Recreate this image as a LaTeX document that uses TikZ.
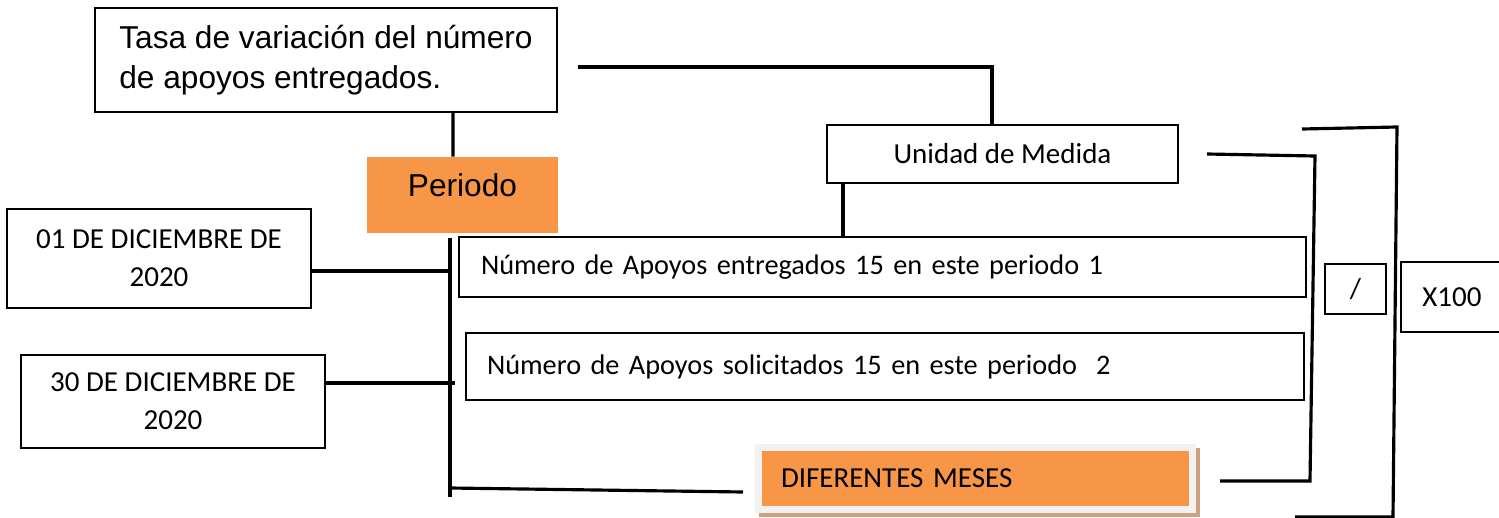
\documentclass[tikz,border=0pt]{standalone}
\usepackage{fontspec}
\setmainfont{Carlito}
\newfontfamily\arialfont{Liberation Sans}
\usetikzlibrary{backgrounds}
\definecolor{naranja}{HTML}{F79646}
\definecolor{marco}{HTML}{F2F2F2}
\definecolor{sombra}{HTML}{CFA27F}

\begin{document}
\begin{tikzpicture}[
  caja/.style={draw, line width=.6pt, inner sep=0pt, font=\fontsize{16.5}{21.5}\selectfont},
  fila/.style={caja, align=left, font=\fontsize{16.1}{20}\selectfont},
  conn/.style={line width=1.8pt},
  ]
\useasboundingbox (0,0) rectangle (29.98,-10.36);
% cajas
\node[caja, minimum width=9.24cm, minimum height=2.08cm, align=left, font=\arialfont\fontsize{18}{22.7}\selectfont] (tasa) at (6.52,-1.20) {Tasa de variación del número\\de apoyos entregados.};
\node[fill=naranja, minimum width=3.82cm, minimum height=1.52cm, text depth=.4cm, font=\arialfont\fontsize{18}{22}\selectfont] (periodo) at (9.25,-3.90) {Periodo};
\node[caja, line width=1.2pt, minimum width=7.02cm, minimum height=1.16cm] (unidad) at (20.05,-3.08) {Unidad de Medida};
\node[fila, text width=16.06cm, inner xsep=.44cm, minimum height=1.2cm] (num1) at (17.65,-5.34) {Número de Apoyos entregados 15 en este periodo 1};
\node[fila, text width=15.92cm, inner xsep=.42cm, minimum height=1.34cm] (num2) at (17.70,-7.33) {Número de Apoyos solicitados 15 en este periodo\ \ 2};
\node[caja, minimum width=6.08cm, minimum height=1.98cm, align=center] (fecha1) at (3.18,-5.17) {01 DE DICIEMBRE DE\\2020};
\node[caja, minimum width=6.08cm, minimum height=1.86cm, align=center] (fecha2) at (3.46,-8.03) {30 DE DICIEMBRE DE\\2020};
\node[fill=naranja, draw=marco, line width=.14cm, minimum width=8.68cm, minimum height=1.24cm, text width=7.78cm, inner xsep=.45cm, align=left, font=\fontsize{16.5}{20}\selectfont] (meses) at (19.51,-9.57) {DIFERENTES MESES};
\begin{scope}[on background layer]
\fill[sombra] ([shift={(.08,-.08)}]meses.south west) rectangle ([shift={(.08,-.08)}]meses.north east);
\end{scope}
\node[caja, minimum width=1.22cm, minimum height=1cm] (div) at (27.11,-5.78) {/};
\node[caja, minimum width=2.04cm, minimum height=1.4cm] (por) at (29.04,-5.94) {X100};
% conectores
\draw[conn] ([xshift=2.54cm]tasa.south) -- ([xshift=-.19cm]periodo.north);
\draw[conn] ([xshift=.4cm,yshift=-.14cm]tasa.east) -| ([xshift=-.21cm]unidad.north);
\draw[conn] ([xshift=-3.19cm]unidad.south) -- ([xshift=-3.19cm]unidad.south |- num1.north);
\coordinate (bus1) at (9.0,-4.76);
\coordinate (bus2) at (9.0,-9.94);
\coordinate (bus3) at (9.0,-9.76);
\draw[conn] (bus1) -- (bus2);
\draw[conn] ([yshift=-.25cm]fecha1.east) -- ([yshift=-.25cm]fecha1.east -| bus1);
\draw[conn] ([yshift=.37cm]fecha2.east) -- ([xshift=.1cm,yshift=.37cm]fecha2.east -| bus1);
\draw[conn] (bus3) -- ([xshift=-.24cm,yshift=-.27cm]meses.west);
% corchetes
\coordinate (c1a) at (26.3,-3.12);
\coordinate (c1b) at (26.2,-9.62);
\draw[conn] ([xshift=.56cm]unidad.east) -- (c1a) -- (c1b) -- ([xshift=.48cm,yshift=-.05cm]meses.east);
\coordinate (c2a) at (26.04,-2.58);
\coordinate (c2b) at (27.94,-2.54);
\coordinate (c2c) at (27.86,-10.34);
\coordinate (c2d) at (25.9,-10.34);
\draw[conn] (c2a) -- (c2b) -- (c2c) -- (c2d);
\end{tikzpicture}
\end{document}
